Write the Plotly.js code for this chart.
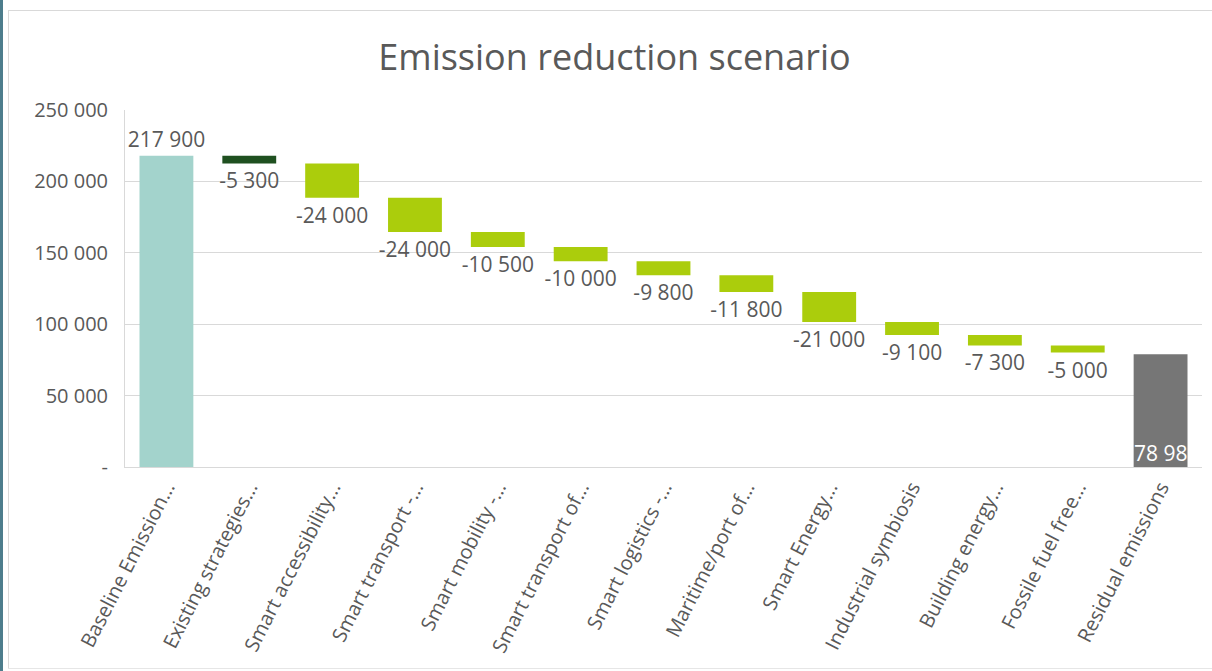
<!DOCTYPE html>
<html>
<head>
<meta charset="utf-8">
<script src="https://cdn.plot.ly/plotly-3.0.1.min.js"></script>
<style>
  html, body { margin: 0; padding: 0; background: #ffffff; }
  #wrap { position: relative; width: 1212px; height: 671px; overflow: hidden; }
  #chart { position: absolute; left: 0; top: 0; width: 1212px; height: 671px; }
  .edge { position: absolute; pointer-events: none; }
  #side { left: 0; top: 0; width: 3px; height: 671px; background: #4d7d8c; }
  #frameTop { left: 8px; top: 10px; width: 1204px; height: 1px; background: #d9d9d9; }
  #frameLeft { left: 8px; top: 10px; width: 1px; height: 659px; background: #d9d9d9; }
  #frameBottom { left: 8px; top: 668px; width: 1204px; height: 1px; background: #e6e6e6; }
</style>
</head>
<body>
<div id="wrap">
  <div id="chart"></div>
  <div class="edge" id="side"></div>
  <div class="edge" id="frameTop"></div>
  <div class="edge" id="frameLeft"></div>
  <div class="edge" id="frameBottom"></div>
</div>
<script>
// Category labels along the x axis
const categories = [
  'Baseline Emission...',
  'Existing strategies...',
  'Smart accessibility...',
  'Smart transport -...',
  'Smart mobility -...',
  'Smart transport of...',
  'Smart logistics -...',
  'Maritime/port of...',
  'Smart Energy...',
  'Industrial symbiosis',
  'Building energy...',
  'Fossile fuel free...',
  'Residual emissions'
];

// Starting emissions, step-by-step reductions and what remains
const baselineEmissions = 217900;
const reductions = [-5300, -24000, -24000, -10500, -10000, -9800, -11800, -21000, -9100, -7300, -5000];
const residualEmissions = 78980;

// Y axis ticks
const yTickValues = [0, 50000, 100000, 150000, 200000, 250000];
const yTickLabels = ['-', '50 000', '100 000', '150 000', '200 000', '250 000'];

function fmt(n) {
  const sign = n < 0 ? '-' : '';
  return sign + String(Math.abs(n)).replace(/\B(?=(\d{3})+(?!\d))/g, ' ');
}

// Each reduction bar hangs from the running total left by the previous step
const heights = [baselineEmissions];
const bases = [0];
let running = baselineEmissions;
reductions.forEach(r => {
  heights.push(r);
  bases.push(running);
  running += r;
});
heights.push(residualEmissions);
bases.push(0);

const colors = ['#a3d3cc', '#1f5020']
  .concat(reductions.slice(1).map(() => '#abcd0c'))
  .concat(['#767676']);

const last = heights.length - 1;
const labels = heights.map(fmt);
// residual value is written inside its bar by an annotation below
const positions = heights.map((_, i) => i === last ? 'none' : 'outside');

const FONT = 'Open Sans, Noto Sans, sans-serif';

const trace = {
  type: 'bar',
  x: categories,
  y: heights,
  base: bases,
  marker: { color: colors, line: { width: 0 } },
  text: labels,
  textposition: positions,
  constraintext: 'none',
  cliponaxis: false,
  outsidetextfont: { family: FONT, size: 21, color: '#595959' },
  textangle: 0,
  hoverinfo: 'skip'
};

const layout = {
  width: 1212,
  height: 671,
  margin: { l: 125, r: 10, t: 110, b: 204 },
  paper_bgcolor: 'rgba(0,0,0,0)',
  plot_bgcolor: 'rgba(0,0,0,0)',
  showlegend: false,
  bargap: 0.35,
  font: { family: FONT, color: '#595959' },
  title: {
    text: 'Emission reduction scenario',
    font: { family: FONT, size: 36, color: '#595959' },
    xref: 'container', x: 0.507, xanchor: 'center',
    yref: 'container', y: 1 - 57 / 671, yanchor: 'middle'
  },
  xaxis: {
    type: 'category',
    tickangle: -63,
    tickfont: { family: FONT, size: 20, color: '#595959' },
    showgrid: false,
    showline: true,
    linecolor: '#d9d9d9',
    linewidth: 1,
    ticks: '',
    fixedrange: true
  },
  yaxis: {
    range: [0, 250000],
    tickvals: yTickValues,
    ticktext: yTickLabels,
    tickfont: { family: FONT, size: 20, color: '#595959' },
    showgrid: true,
    gridcolor: '#d9d9d9',
    gridwidth: 1,
    zeroline: false,
    showline: true,
    linecolor: '#d9d9d9',
    ticks: '',
    ticklabelstandoff: 12,
    fixedrange: true
  },
  annotations: [{
    x: categories[last],
    y: 0,
    xref: 'x', yref: 'y',
    xanchor: 'left', yanchor: 'bottom',
    xshift: -29, yshift: -2,
    text: labels[last],
    showarrow: false,
    font: { family: FONT, size: 21, color: '#ffffff' }
  }]
};

Plotly.newPlot('chart', [trace], layout, { displayModeBar: false, staticPlot: true });
</script>
</body>
</html>
